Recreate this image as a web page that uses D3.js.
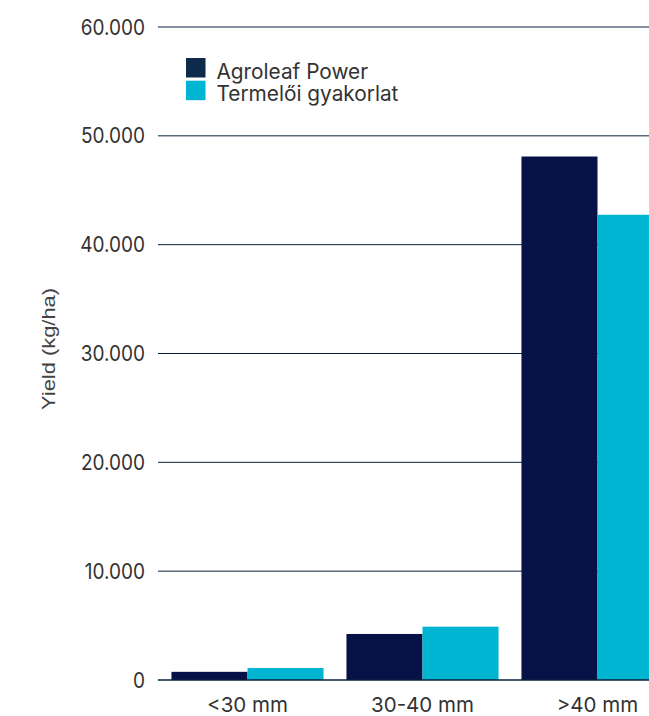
<!DOCTYPE html>
<html>
<head>
<meta charset="utf-8">
<script src="https://cdn.jsdelivr.net/npm/d3@7"></script>
<style>
  body { margin: 0; background: #fff; }
  text { font-family: Inter, "Noto Sans", sans-serif; fill: #333; }
</style>
</head>
<body>
<script>
var categories = ['<30 mm', '30-40 mm', '>40 mm'];
var series = ['Agroleaf Power', 'Termelői gyakorlat'];
var agroleaf = [750, 4230, 48100];
var termeloi = [1100, 4900, 42750];
var yTicks = [0, 10000, 20000, 30000, 40000, 50000, 60000];

var colors = ['#061245', '#00b5d1'];
var legendColors = ['#0d2a4a', '#00b5d1'];

const w = 649;
const h = 716;

const data = categories.map((c, i) => ({ cat: c, values: [agroleaf[i], termeloi[i]] }));

const svg = d3.select('body').append('svg').attr('width', w).attr('height', h);

const yScale = d3.scaleLinear().domain([0, 60000]).range([680, 27]);

const xScale = d3.scaleBand().domain(categories).range([160, 685])
  .paddingInner(0.131).paddingOuter(0.0655);

const xSub = d3.scaleBand().domain([0, 1]).range([0, xScale.bandwidth()]);

// gridlines
svg.append('g').selectAll('line').data(yTicks.filter(d => d > 0)).enter().append('line')
  .attr('x1', 158).attr('x2', w)
  .attr('y1', d => yScale(d)).attr('y2', d => yScale(d))
  .attr('stroke', '#0a1f3d').attr('stroke-width', 1);

// bars
const groups = svg.selectAll('g.grp').data(data).enter().append('g')
  .attr('class', 'grp')
  .attr('transform', d => 'translate(' + xScale(d.cat) + ',0)');

groups.selectAll('rect').data(d => d.values).enter().append('rect')
  .attr('x', (d, i) => xSub(i))
  .attr('y', d => yScale(d))
  .attr('width', xSub.bandwidth())
  .attr('height', d => yScale(0) - yScale(d))
  .attr('fill', (d, i) => colors[i]);

// baseline
svg.append('line').attr('x1', 158).attr('x2', w)
  .attr('y1', yScale(0)).attr('y2', yScale(0))
  .attr('stroke', '#0a1f3d').attr('stroke-width', 1.5);

// y axis labels
const fmt = d => d === 0 ? '0' : d3.format(',')(d).replace(/,/g, '.');
svg.append('g').selectAll('text').data(yTicks).enter().append('text')
  .attr('transform', d => 'translate(145,' + yScale(d) + ') scale(1,1.12)')
  .attr('dy', '0.36em')
  .attr('text-anchor', 'end').attr('font-size', 19)
  .text(fmt);

// x axis labels
svg.append('g').selectAll('text').data(categories).enter().append('text')
  .attr('x', d => xScale(d) + xScale.bandwidth() / 2).attr('y', 712)
  .attr('text-anchor', 'middle').attr('font-size', 20.5)
  .text(d => d);

// axis title
svg.append('text')
  .attr('transform', 'translate(55,349) rotate(-90)')
  .attr('text-anchor', 'middle')
  .style('font-family', '"Liberation Sans", Arial, sans-serif')
  .style('fill', '#444')
  .attr('font-size', 17.5)
  .attr('textLength', 122).attr('lengthAdjust', 'spacingAndGlyphs')
  .text('Yield (kg/ha)');

// legend
const legend = svg.append('g').attr('transform', 'translate(186,58)');
legend.selectAll('rect').data(series).enter().append('rect')
  .attr('x', 0).attr('y', (d, i) => i * 22.7)
  .attr('width', 19.5).attr('height', 19.5)
  .attr('fill', (d, i) => legendColors[i]);
legend.selectAll('text').data(series).enter().append('text')
  .attr('x', 30.5).attr('y', (d, i) => i * 22.7 + 20.5)
  .attr('font-size', 20.8)
  .text(d => d);
</script>
</body>
</html>
